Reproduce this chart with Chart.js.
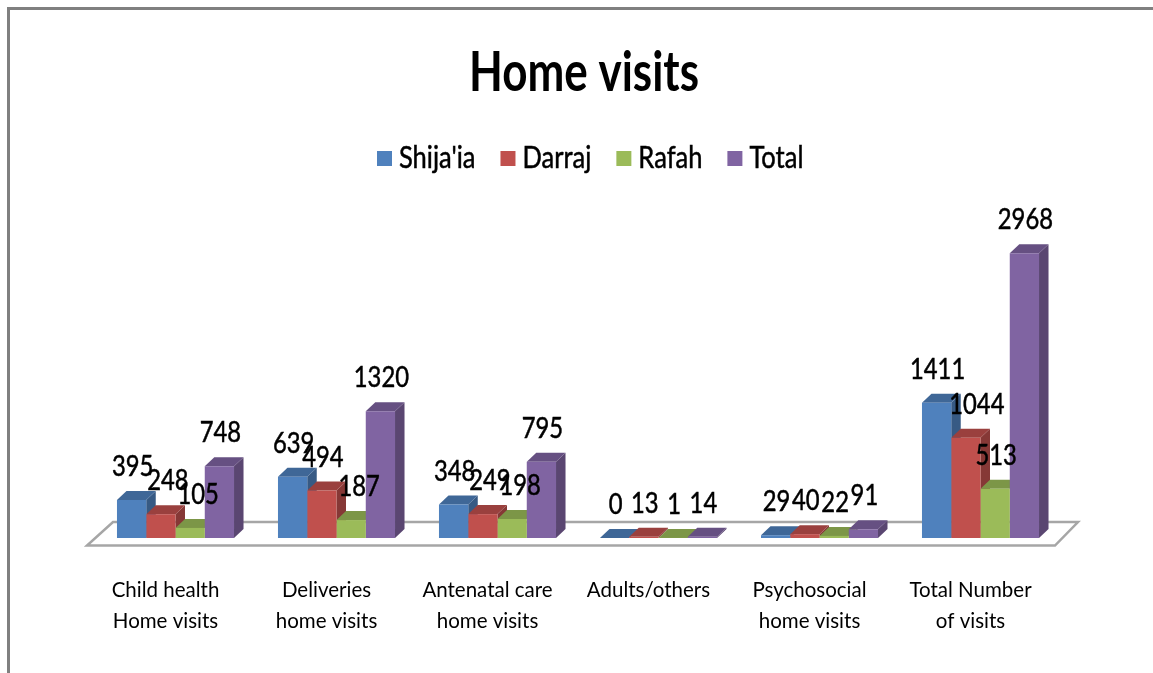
<!DOCTYPE html>
<html>
<head>
<meta charset="utf-8">
<title>Home visits</title>
<script src="https://cdn.jsdelivr.net/npm/chart.js@4/dist/chart.umd.min.js"></script>
<style>
  html, body { margin: 0; height: 100%; background: #fff; overflow: hidden; }
  #frame { position: absolute; left: 7px; top: 7px; right: 0; bottom: 0; border-top: 3px solid #808080; border-left: 3px solid #808080; }
  #wrap { position: absolute; left: 0; top: 0; width: 1153px; height: 673px; }
</style>
</head>
<body>
<div id="frame"></div>
<div id="wrap"><canvas id="chart" width="1153" height="673"></canvas></div>
<script>
const chartTitle = "Home visits";
const categories = [
  ["Child health", "Home visits"],
  ["Deliveries", "home visits"],
  ["Antenatal care", "home visits"],
  ["Adults/others"],
  ["Psychosocial", "home visits"],
  ["Total Number", "of visits"],
];
const shijaia = [395, 639, 348, 0, 29, 1411];
const darraj = [248, 494, 249, 13, 40, 1044];
const rafah = [105, 187, 198, 1, 22, 513];
const total = [748, 1320, 795, 14, 91, 2968];

const font = "Lato, sans-serif";
const depthX = 9.5;
const depthY = 9;
// a few labels sit off-centre in the original, "dataset:category": px to the right
const labelShift = { "1:0": 6, "2:0": 7, "2:1": 7, "1:2": 6, "2:2": 7, "1:5": 10 };

function shade(hex, f) {
  const n = parseInt(hex.slice(1), 16);
  const c = [n >> 16, (n >> 8) & 255, n & 255].map((v) => Math.round(v * f));
  return `rgb(${c.join(",")})`;
}

// the original text is a tall narrow font, so squeeze Lato sideways
function squeezedText(ctx, text, x, y, sx, heavy) {
  ctx.save();
  ctx.translate(x, y);
  ctx.scale(sx, 1);
  ctx.fillText(text, 0, 0);
  if (heavy) {
    ctx.lineWidth = heavy;
    ctx.strokeText(text, 0, 0);
  }
  ctx.restore();
}

// floor, top/side faces of the bars (the front face is the real bar), labels, title, legend
const bars3d = {
  id: "bars3d",
  beforeDatasetsDraw(chart) {
    const { ctx, chartArea } = chart;
    const y0 = chart.scales.y.getPixelForValue(0);
    ctx.save();
    ctx.beginPath();
    ctx.moveTo(chartArea.left - 8, y0 + 7.5);
    ctx.lineTo(chartArea.right - 6, y0 + 7.5);
    ctx.lineTo(chartArea.right + 17, y0 - 16);
    ctx.lineTo(chartArea.left + 18, y0 - 16);
    ctx.closePath();
    ctx.fillStyle = "#fff";
    ctx.fill();
    ctx.strokeStyle = "#a6a6a6";
    ctx.lineWidth = 2.5;
    ctx.stroke();

    chart.data.labels.forEach((_, j) => {
      chart.data.datasets.forEach((ds, i) => {
        const bar = chart.getDatasetMeta(i).data[j];
        const x1 = bar.x - bar.width / 2;
        const x2 = bar.x + bar.width / 2;
        ctx.fillStyle = shade(ds.backgroundColor, 0.7);
        ctx.beginPath();
        ctx.moveTo(x2, bar.y);
        ctx.lineTo(x2 + depthX, bar.y - depthY);
        ctx.lineTo(x2 + depthX, bar.base - depthY);
        ctx.lineTo(x2, bar.base);
        ctx.closePath();
        ctx.fill();
        ctx.fillStyle = shade(ds.backgroundColor, 0.8);
        ctx.beginPath();
        ctx.moveTo(x1, bar.y);
        ctx.lineTo(x1 + depthX, bar.y - depthY);
        ctx.lineTo(x2 + depthX, bar.y - depthY);
        ctx.lineTo(x2, bar.y);
        ctx.closePath();
        ctx.fill();
      });
    });
    ctx.restore();
  },
  afterDatasetsDraw(chart) {
    const { ctx } = chart;
    ctx.save();
    ctx.fillStyle = "#000";
    ctx.strokeStyle = "#000";
    ctx.textBaseline = "middle";

    ctx.textAlign = "center";
    ctx.font = `28px ${font}`;
    chart.data.datasets.forEach((ds, i) => {
      chart.getDatasetMeta(i).data.forEach((bar, j) => {
        const shift = labelShift[`${i}:${j}`] || 0;
        squeezedText(ctx, String(ds.data[j]), bar.x + 1 + shift, bar.y - 33, 0.85, 0.5);
      });
    });

    ctx.font = `bold 56px ${font}`;
    squeezedText(ctx, chartTitle, 584, 73, 0.785);

    ctx.textAlign = "left";
    ctx.font = `30px ${font}`;
    let x = 377;
    chart.data.datasets.forEach((ds) => {
      ctx.fillStyle = ds.backgroundColor;
      ctx.fillRect(x, 151, 15, 15);
      ctx.fillStyle = "#000";
      squeezedText(ctx, ds.label, x + 22, 158, 0.85, 0.5);
      x += 22 + ctx.measureText(ds.label).width * 0.85 + 25;
    });
    ctx.restore();
  },
};

const series = [
  { label: "Shija'ia", data: shijaia, backgroundColor: "#4f81bd" },
  { label: "Darraj", data: darraj, backgroundColor: "#c0504d" },
  { label: "Rafah", data: rafah, backgroundColor: "#9bbb59" },
  { label: "Total", data: total, backgroundColor: "#8064a2" },
];

new Chart(document.getElementById("chart"), {
  type: "bar",
  data: { labels: categories, datasets: series },
  plugins: [bars3d],
  options: {
    responsive: false,
    animation: false,
    layout: { padding: { left: 95, right: 92, top: 231, bottom: 0 } },
    datasets: { bar: { categoryPercentage: 0.727, barPercentage: 1 } },
    plugins: {
      legend: { display: false },
      tooltip: { enabled: false },
    },
    scales: {
      x: {
        grid: { display: false, drawTicks: false },
        border: { display: false },
        afterFit(s) { s.height = 135; },
        ticks: {
          color: "#000",
          font: { family: font, size: 20.5, lineHeight: 1.51 },
          padding: 37,
          labelOffset: -10,
          maxRotation: 0,
          autoSkip: false,
        },
      },
      y: {
        display: false,
        min: 0,
        max: 3200,
      },
    },
  },
});
</script>
</body>
</html>
